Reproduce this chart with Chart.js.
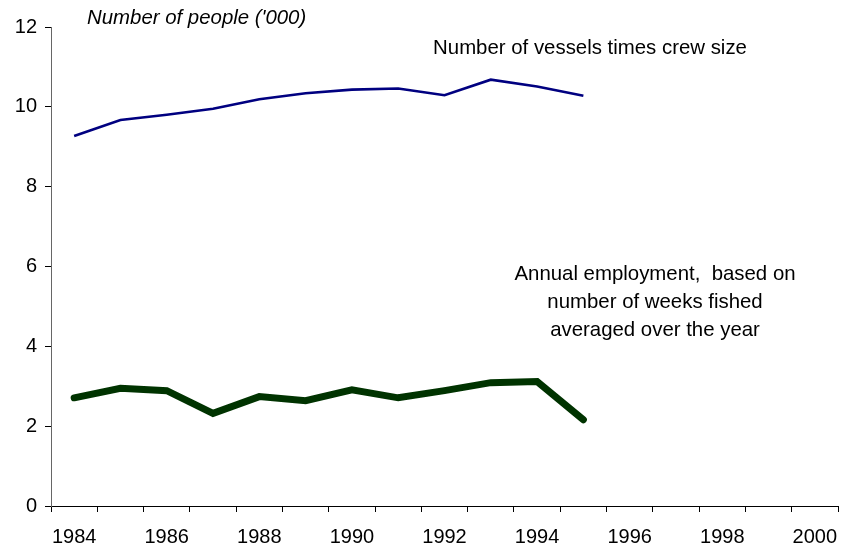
<!DOCTYPE html>
<html>
<head>
<meta charset="utf-8">
<script src="https://cdn.jsdelivr.net/npm/chart.js@4/dist/chart.umd.min.js"></script>
<style>
  html, body { margin: 0; padding: 0; background: #fff; }
  #wrap { width: 843px; height: 546px; }
</style>
</head>
<body>
<div id="wrap"><canvas id="crewChart" width="843" height="546"></canvas></div>
<script>
// years on the category axis (data stops at 1995)
const years = ['1984', '1985', '1986', '1987', '1988', '1989', '1990', '1991', '1992',
  '1993', '1994', '1995', '1996', '1997', '1998', '1999', '2000'];

// Number of vessels times crew size ('000)
const vesselsCrew = [9.27, 9.67, 9.80, 9.95, 10.19, 10.34, 10.43, 10.46, 10.29, 10.68, 10.51, 10.28];

// Annual employment, based on weeks fished ('000)
const annualEmployment = [2.71, 2.95, 2.89, 2.32, 2.74, 2.64, 2.91, 2.71, 2.89, 3.09, 3.12, 2.16];

const yTicks = [0, 2, 4, 6, 8, 10, 12];

const FONT = '"Liberation Sans", Arial, sans-serif';

// free text labels drawn on top of the chart
const textLabels = {
  id: 'textLabels',
  afterDraw(chart) {
    const c = chart.ctx;
    c.save();
    c.fillStyle = '#000';
    c.textBaseline = 'middle';

    c.font = 'italic 20.4px ' + FONT;
    c.textAlign = 'left';
    c.fillText("Number of people ('000)", 87, 18);

    c.font = '20.4px ' + FONT;
    c.textAlign = 'center';
    c.fillText('Number of vessels times crew size', 590, 48);
    c.fillText('Annual employment,  based on', 655, 274);
    c.fillText('number of weeks fished', 655, 302);
    c.fillText('averaged over the year', 655, 330);
    c.restore();
  }
};

new Chart(document.getElementById('crewChart'), {
  type: 'line',
  data: {
    labels: years,
    datasets: [{
      label: 'Number of vessels times crew size',
      data: vesselsCrew,
      borderColor: '#000080',
      borderWidth: 2.6,
      pointRadius: 0,
      tension: 0,
      fill: false
    }, {
      label: 'Annual employment',
      data: annualEmployment,
      borderColor: '#003300',
      borderWidth: 7,
      borderCapStyle: 'round',
      pointRadius: 0,
      tension: 0,
      fill: false
    }]
  },
  options: {
    responsive: false,
    animation: false,
    layout: { padding: { top: 27, right: 5, left: 0, bottom: 0 } },
    plugins: {
      legend: { display: false },
      tooltip: { enabled: false }
    },
    scales: {
      x: {
        type: 'category',
        offset: true,
        grid: {
          offset: true,
          drawOnChartArea: false,
          drawTicks: true,
          tickLength: 6,
          tickColor: '#000',
          tickWidth: 1
        },
        border: { color: '#000', width: 1 },
        ticks: {
          autoSkip: false,
          maxRotation: 0,
          padding: 13,
          color: '#000',
          font: { family: FONT, size: 20 },
          callback: (v, i) => (i % 2 === 0 ? years[i] : '')
        },
        afterFit(scale) {
          scale.height = 40;
          scale.paddingLeft = 0;
          scale.paddingRight = 0;
        }
      },
      y: {
        min: 0,
        max: 12,
        afterBuildTicks(scale) { scale.ticks = yTicks.map(v => ({ value: v })); },
        grid: {
          drawOnChartArea: false,
          tickLength: 6,
          tickColor: '#000',
          tickWidth: 1
        },
        border: { color: '#666', width: 1 },
        ticks: {
          padding: 8,
          color: '#000',
          font: { family: FONT, size: 20 }
        },
        afterFit(scale) { scale.width = 51; }
      }
    }
  },
  plugins: [textLabels]
});
</script>
</body>
</html>
